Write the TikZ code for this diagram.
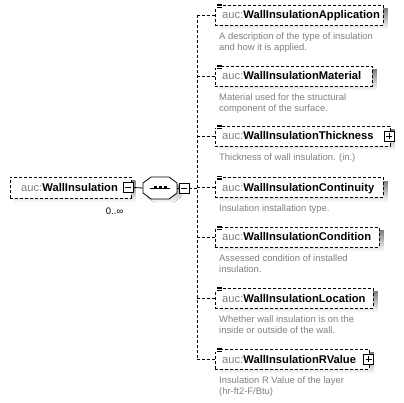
\documentclass[tikz,border=0pt]{standalone}
\usepackage{fontspec}
\setmainfont{Liberation Sans}
\usetikzlibrary{calc,backgrounds}
\definecolor{shade}{RGB}{192,192,192}
\definecolor{prefix}{RGB}{128,128,128}
\definecolor{desctext}{RGB}{128,128,128}
\newcommand{\namefont}{\fontsize{11.2}{13}\selectfont}
\newcommand{\descfont}{\fontsize{9.4}{11}\selectfont}
\newcommand{\elname}[1]{\textcolor{prefix}{auc:}\textbf{#1}}
% annotation mark at the top-left corner of an element box
\newcommand{\annotmark}[2]{%
  \fill[white] (#1-2,#2-2.5) rectangle (#1+7,#2+2.5);
  \draw[line width=0.7pt] (#1+2,#2-1) -- (#1+6.5,#2-1)
                          (#1+2,#2+0.5) -- (#1+6.5,#2+0.5)
                          (#1+2,#2+2) -- (#1+6.5,#2+2);}
% grey drop shadow under a box node
\newcommand{\boxshadow}[1]{%
  \begin{scope}[on background layer]
    \fill[shade] ($(#1.north west)+(4,4)$) rectangle ($(#1.south east)+(4,4)$);
  \end{scope}}
\begin{document}
\begin{tikzpicture}[x=1pt,y=-1pt,
  elbox/.style={draw, dash pattern=on 3pt off 2pt, line width=0.8pt, fill=white,
    inner sep=0pt, minimum height=20pt, anchor=west},
  elname/.style={anchor=base west, inner sep=0pt, font=\namefont},
  eldesc/.style={anchor=base west, inner sep=0pt, align=left, font=\descfont, text=desctext},
  pm/.style={draw, fill=white, minimum size=10pt, inner sep=0pt, line width=0.8pt},
  minus/.style={pm, path picture={\draw[line width=0.9pt]
      ([xshift=2pt]path picture bounding box.west) -- ([xshift=-2pt]path picture bounding box.east);}},
  plus/.style={pm, path picture={\draw[line width=0.9pt]
      ([xshift=2pt]path picture bounding box.west) -- ([xshift=-2pt]path picture bounding box.east)
      ([yshift=2pt]path picture bounding box.south) -- ([yshift=-2pt]path picture bounding box.north);}},
  conn/.style={dash pattern=on 3pt off 2pt, line width=0.8pt},
  link/.style={line width=0.8pt}]

\useasboundingbox (0,0) rectangle (404,403);

% ---- root element ----
\node[elbox, minimum width=120.5pt, minimum height=21pt] (rootbox) at (10,187.5) {};
\boxshadow{rootbox}
\node[elname] (root) at (21,191.5) {\elname{WallInsulation}};
\node[minus] (rootexp) at (128,187.5) {};
\node[anchor=base east, inner sep=0pt, font=\fontsize{9.5}{11}\selectfont] (card) at (123.5,215) {0..∞};

% ---- sequence compositor ----
\node[minimum width=34pt, minimum height=22pt, inner sep=0pt] (seq) at (160,188) {};
\fill[shade] (155,181) -- (173,181) -- (181,187) -- (181,197) -- (173,203) -- (155,203) -- (147,197) -- (147,187) -- cycle;
\draw[link, fill=white] (151,177) -- (169,177) -- (177,183) -- (177,193) -- (169,199) -- (151,199) -- (143,193) -- (143,183) -- cycle;
\draw[link] (150,188) -- (170,188);
\fill (153.5,186.5) rectangle (156.5,189.5);
\fill (158.5,186.5) rectangle (161.5,189.5);
\fill (163.5,186.5) rectangle (166.5,189.5);
\node[minus] (seqexp) at (184,188) {};

\coordinate (bus) at (197,0);

% ---- child elements ----
\node[elbox, minimum width=168pt] (appbox) at (215,15) {};
\boxshadow{appbox}
\annotmark{215}{5}
\node[elname] (app) at (222,19) {\elname{WallInsulationApplication}};
\node[eldesc] (appdesc) at (219,50.5) {A description of the type of insulation\\and how it is applied.};

\node[elbox, minimum width=157pt] (matbox) at (215,76) {};
\boxshadow{matbox}
\annotmark{215}{66}
\node[elname] (mat) at (222,80) {\elname{WallInsulationMaterial}};
\node[eldesc] (matdesc) at (219,111.5) {Material used for the structural\\component of the surface.};

\node[elbox, minimum width=175pt] (thkbox) at (215,136) {};
\boxshadow{thkbox}
\annotmark{215}{126}
\node[elname] (thk) at (222,140) {\elname{WallInsulationThickness}};
\node[plus] (thkexp) at (389,136) {};
\node[eldesc] (thkdesc) at (219,160.5) {Thickness of wall insulation. (in.)};

\node[elbox, minimum width=168pt] (conbox) at (215,187.5) {};
\boxshadow{conbox}
\annotmark{215}{177.5}
\node[elname] (con) at (222,191.5) {\elname{WallInsulationContinuity}};
\node[eldesc] (condesc) at (219,212) {Insulation installation type.};

\node[elbox, minimum width=164pt] (cndbox) at (215,237) {};
\boxshadow{cndbox}
\annotmark{215}{227}
\node[elname] (cnd) at (222,241) {\elname{WallInsulationCondition}};
\node[eldesc] (cnddesc) at (219,272.5) {Assessed condition of installed\\insulation.};

\node[elbox, minimum width=158pt] (locbox) at (215,298) {};
\boxshadow{locbox}
\annotmark{215}{288}
\node[elname] (loc) at (222,302) {\elname{WallInsulationLocation}};
\node[eldesc] (locdesc) at (219,333.5) {Whether wall insulation is on the\\inside or outside of the wall.};

\node[elbox, minimum width=154pt] (rvbox) at (215,359) {};
\boxshadow{rvbox}
\annotmark{215}{349}
\node[elname] (rv) at (222,363) {\elname{WallInsulationRValue}};
\node[plus] (rvexp) at (368.5,359) {};
\node[eldesc] (rvdesc) at (219,394.5) {Insulation R Value of the layer\\(hr-ft2-F/Btu)};

% ---- connectors ----
\draw[link] (rootexp.east) -- (seq.west);
\draw[link] (seq.east) -- (seqexp.west);
\draw[conn] (seqexp.east) -- (seqexp.east -| bus);
\draw[conn] (appbox.west -| bus) -- (rvbox.west -| bus);
\foreach \b in {appbox,matbox,thkbox,conbox,cndbox,locbox,rvbox}
  \draw[conn] (\b.west -| bus) -- (\b.west);

\end{tikzpicture}
\end{document}
